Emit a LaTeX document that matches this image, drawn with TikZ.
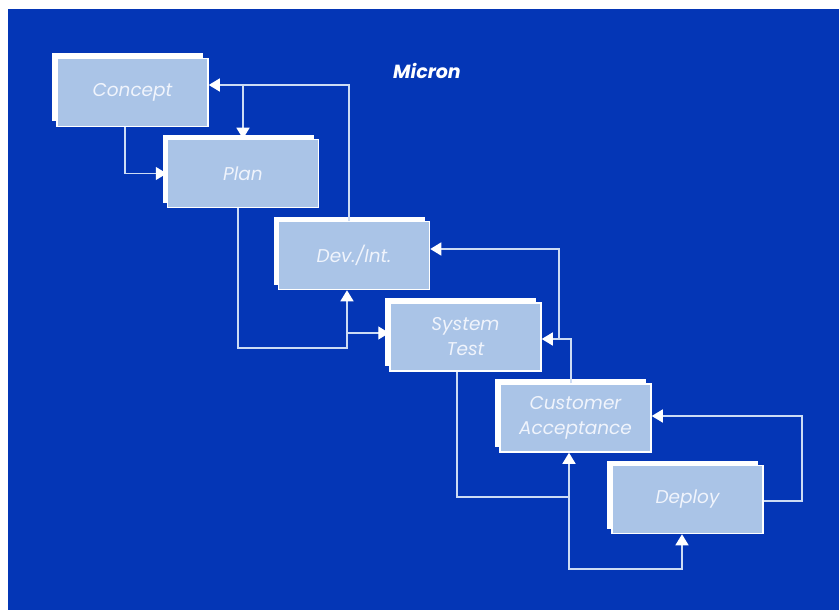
\documentclass[tikz,border=0pt]{standalone}
\usepackage{fontspec}
\setmainfont{Poppins}
\usetikzlibrary{arrows.meta,shadows}
\definecolor{bgblue}{RGB}{4,54,182}
\definecolor{boxfill}{RGB}{170,196,231}
\definecolor{linec}{RGB}{205,220,244}
\definecolor{txtc}{RGB}{240,244,252}
\tikzset{
  stage/.style={rectangle, fill=boxfill, draw=white, line width=1.5pt,
    minimum width=151pt, minimum height=68pt, inner sep=0pt,
    font=\fontsize{18.5}{25}\selectfont\itshape, text=txtc, align=center,
    drop shadow={shadow xshift=-5pt, shadow yshift=5pt, fill=white, opacity=1}},
  conn/.style={draw=linec, line width=1.4pt,
    -{Triangle[width=13pt,length=11pt,fill=white,color=white]}},
}
\begin{document}
\begin{tikzpicture}[x=1pt,y=-1pt]
\useasboundingbox (0,0) rectangle (839,610);
\fill[white] (0,0) rectangle (839,610);
\fill[bgblue] (8,9) rectangle (839,610);
\node[font=\fontsize{19}{22}\selectfont\bfseries\itshape, text=white] (title) at (427,71) {Micron};

\node[stage] (concept) at (132.5,92.5) {Concept};
\node[stage] (plan) at (243,173.5) {Plan};
\node[stage] (dev) at (354,255.5) {Dev./Int.};
\node[stage] (sys) at (465.5,337) {System\\Test};
\node[stage] (cust) at (575.5,418) {Customer\\Acceptance};
\node[stage] (deploy) at (687.5,499.5) {Deploy};

\coordinate (j1) at (243,85);
\coordinate (j2) at (347,348);
\coordinate (j3) at (559,339);
\coordinate (j4) at (569,497);
\coordinate (j5) at (682,569);
\coordinate (j6) at (802,416);

% Concept -> Plan
\draw[conn] ([xshift=-7.5pt]concept.south) |- (plan.west);
% Dev -> Concept, branch to Plan
\draw[conn] ([xshift=-5pt]dev.north) |- ([yshift=7.5pt]concept.east);
\draw[conn] (j1) -- (plan.north);
% Plan -> Dev / System
\draw[conn] ([xshift=-5pt]plan.south) |- (j2) -- (j2 |- dev.south);
\draw[conn] ([yshift=4pt]sys.west -| j2) -- ([yshift=4pt]sys.west);
% Customer -> System / Dev
\draw[conn] ([xshift=-4.5pt]cust.north) |- ([yshift=-2pt]sys.east);
\draw[conn] (j3) |- ([yshift=6.5pt]dev.east);
% System -> Customer / Deploy
\draw[conn] ([xshift=-8.5pt]sys.south) |- (j4) -- (j4 |- cust.south);
\draw[conn] (j4) |- (j5) -- (j5 |- deploy.south);
% Deploy -> Customer
\draw[conn] ([yshift=-1.5pt]deploy.east) -| (j6) -- (j6 -| cust.east);
\end{tikzpicture}
\end{document}
